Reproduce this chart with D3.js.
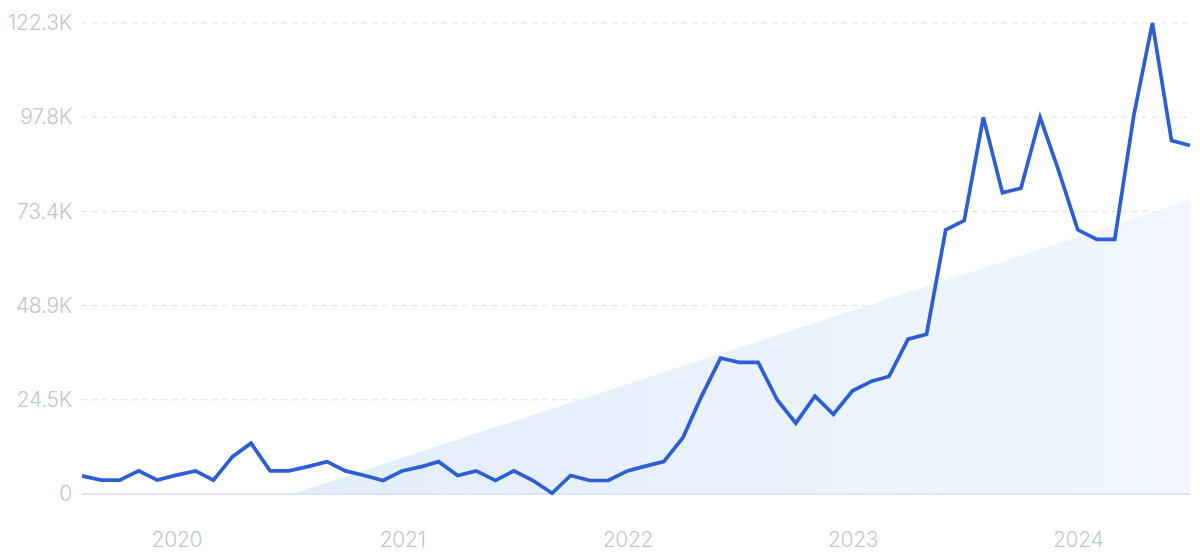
<!DOCTYPE html>
<html>
<head>
<meta charset="utf-8">
<script src="https://cdn.jsdelivr.net/npm/d3@7"></script>
<style>
  html, body { margin: 0; padding: 0; background: #ffffff; }
  svg { display: block; }
  text { font-family: Inter, "Noto Sans", sans-serif; }
</style>
</head>
<body>
<svg id="chart" width="1200" height="556"></svg>
<script>
// ---- data ----
const months = [
  "2019-08","2019-09","2019-10","2019-11","2019-12",
  "2020-01","2020-02","2020-03","2020-04","2020-05","2020-06","2020-07","2020-08","2020-09","2020-10","2020-11","2020-12",
  "2021-01","2021-02","2021-03","2021-04","2021-05","2021-06","2021-07","2021-08","2021-09","2021-10","2021-11","2021-12",
  "2022-01","2022-02","2022-03","2022-04","2022-05","2022-06","2022-07","2022-08","2022-09","2022-10","2022-11","2022-12",
  "2023-01","2023-02","2023-03","2023-04","2023-05","2023-06","2023-07","2023-08","2023-09","2023-10","2023-11","2023-12",
  "2024-01","2024-02","2024-03","2024-04","2024-05","2024-06","2024-07"
];
const values = [
  4700, 3600, 3600, 6000, 3600,
  4900, 6000, 3600, 9700, 13200, 6000, 6000, 7100, 8400, 6000, 4800, 3500,
  6000, 7100, 8400, 4800, 6000, 3500, 6000, 3500, 200, 4800, 3500, 3500,
  6000, 7300, 8400, 14600, 25300, 35300, 34200, 34200, 24400, 18400, 25400, 20700,
  26800, 29300, 30500, 40200, 41500, 68600, 71000, 97800, 78200, 79400, 97800, 84000,
  68600, 66100, 66100, 98400, 122300, 91800, 90500
];
const trendDates = ["2020-07-06", "2024-07-01"];
const trendValues = [0, 76300];
const yTickValues = [0, 24460, 48920, 73380, 97840, 122300];
const yTickLabels = ["0", "24.5K", "48.9K", "73.4K", "97.8K", "122.3K"];
const xTickYears = ["2020", "2021", "2022", "2023", "2024"];

// ---- layout ----
const svg = d3.select("#chart");
const margin = { left: 82, right: 10, top: 23, bottom: 62 };
const W = 1200, H = 556;
const parseM = d3.timeParse("%Y-%m");
const parseD = d3.timeParse("%Y-%m-%d");
const parseY = d3.timeParse("%Y");

const data = months.map((m, i) => ({ date: parseM(m), value: values[i] }));

const x = d3.scaleTime()
  .domain([data[0].date, data[data.length - 1].date])
  .range([margin.left, W - margin.right]);
const y = d3.scaleLinear()
  .domain([0, 122300])
  .range([H - margin.bottom, margin.top]);

// gradient for trend area
const defs = svg.append("defs");
const grad = defs.append("linearGradient").attr("id", "trendGrad")
  .attr("x1", "0%").attr("y1", "0%").attr("x2", "100%").attr("y2", "0%");
grad.append("stop").attr("offset", "0%").attr("stop-color", "#e2edfb");
grad.append("stop").attr("offset", "100%").attr("stop-color", "#f1f6fe");

// gridlines
const grid = svg.append("g");
grid.selectAll("line").data(yTickValues.slice(1)).join("line")
  .attr("x1", x.range()[0]).attr("x2", x.range()[1])
  .attr("y1", d => y(d)).attr("y2", d => y(d))
  .attr("stroke", "#d9e1ee").attr("stroke-width", 1)
  .attr("stroke-dasharray", "5,5");

// trend area
const trend = trendDates.map((d, i) => ({ date: parseD(d), value: trendValues[i] }));
const area = d3.area().x(d => x(d.date)).y0(y(0)).y1(d => y(d.value));
svg.append("path").datum(trend)
  .attr("d", area)
  .attr("fill", "url(#trendGrad)");

// baseline
svg.append("line")
  .attr("x1", x.range()[0]).attr("x2", x.range()[1])
  .attr("y1", y(0)).attr("y2", y(0))
  .attr("stroke", "#d3def3").attr("stroke-width", 1.5);

const labelStyle = sel => sel
  .attr("fill", "#c3c6cd").attr("font-size", 21)
  .attr("font-weight", 300)
  .attr("letter-spacing", "-0.3px")
  .attr("font-family", "Inter, 'Noto Sans', sans-serif");

// y axis labels
const yAxis = d3.axisLeft(y).tickValues(yTickValues)
  .tickFormat((d, i) => yTickLabels[i]).tickSize(0).tickPadding(10);
const gy = svg.append("g").attr("transform", `translate(${margin.left},0)`).call(yAxis);
gy.select(".domain").remove();
gy.selectAll("text").call(labelStyle);

// x axis labels
const xAxis = d3.axisBottom(x).tickValues(xTickYears.map(parseY))
  .tickFormat((d, i) => xTickYears[i]).tickSize(0).tickPadding(38);
const gx = svg.append("g").attr("transform", `translate(0,${y(0)})`).call(xAxis);
gx.select(".domain").remove();
gx.selectAll("text").call(labelStyle);

// line
const line = d3.line().x(d => x(d.date)).y(d => y(d.value));
svg.append("path").datum(data)
  .attr("d", line)
  .attr("fill", "none")
  .attr("stroke", "#2d5ed4")
  .attr("stroke-width", 3.7)
  .attr("stroke-linejoin", "miter")
  .attr("stroke-linecap", "butt");
</script>
</body>
</html>
